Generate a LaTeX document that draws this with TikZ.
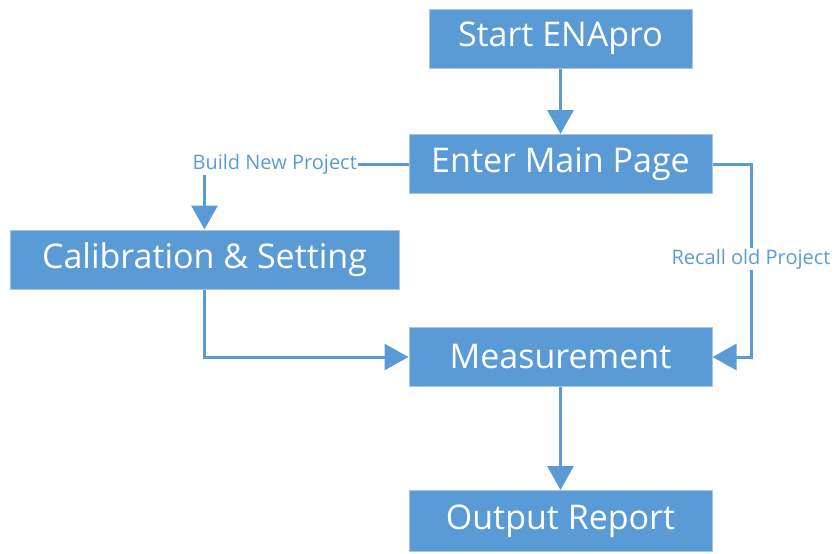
\documentclass[tikz,border=0pt]{standalone}
\usepackage{fontspec}
\setmainfont{Open Sans}
\usepackage{xcolor}
\usetikzlibrary{arrows.meta,positioning,calc}
\definecolor{flowblue}{HTML}{5B9BD5}
\definecolor{flowedge}{HTML}{A9C4E4}

\begin{document}
\begin{tikzpicture}[x=1pt, y=-1pt,
  box/.style={rectangle, draw=flowedge, line width=1pt, fill=flowblue, text=white,
              minimum width=#1, minimum height=59pt, inner sep=0pt,
              font=\fontsize{34}{40}\selectfont},
  lbl/.style={text=flowblue, inner sep=1pt, font=\fontsize{20}{24}\selectfont},
  arr/.style={-{Triangle[width=26pt,length=24pt]}, line width=3pt, draw=flowblue},
  ln/.style={line width=3pt, draw=flowblue}]
  \useasboundingbox (0,0) rectangle (836,554);
  % Boxes
  \node[box=263pt] (start) at (560.5,38.5) {Start ENApro};
  \node[box=303pt] (main)  at (560.5,164)  {Enter Main Page};
  \node[box=389pt] (calib) at (204.5,259.5){Calibration \& Setting};
  \node[box=303pt] (meas)  at (560.5,357)  {Measurement};
  \node[box=303pt, minimum height=61pt] (out) at (560.5,521) {Output Report};
  % Labels
  \node[lbl, anchor=east] (newp) at (358,164) {Build New Project};
  \node[lbl] (oldp) at (751,259) {Recall old Project};
  % Arrows
  \draw[arr] (start)--(main);
  \draw[ln]  (main.west)--(newp.east);
  \draw[arr] (calib.north |- newp.south)--(calib.north);
  \draw[ln]  (main.east)-|(oldp.north);
  \draw[arr] (oldp.south)|-(meas.east);
  \draw[arr] (calib.south)|-(meas.west);
  \draw[arr] (meas)--(out);
\end{tikzpicture}
\end{document}
